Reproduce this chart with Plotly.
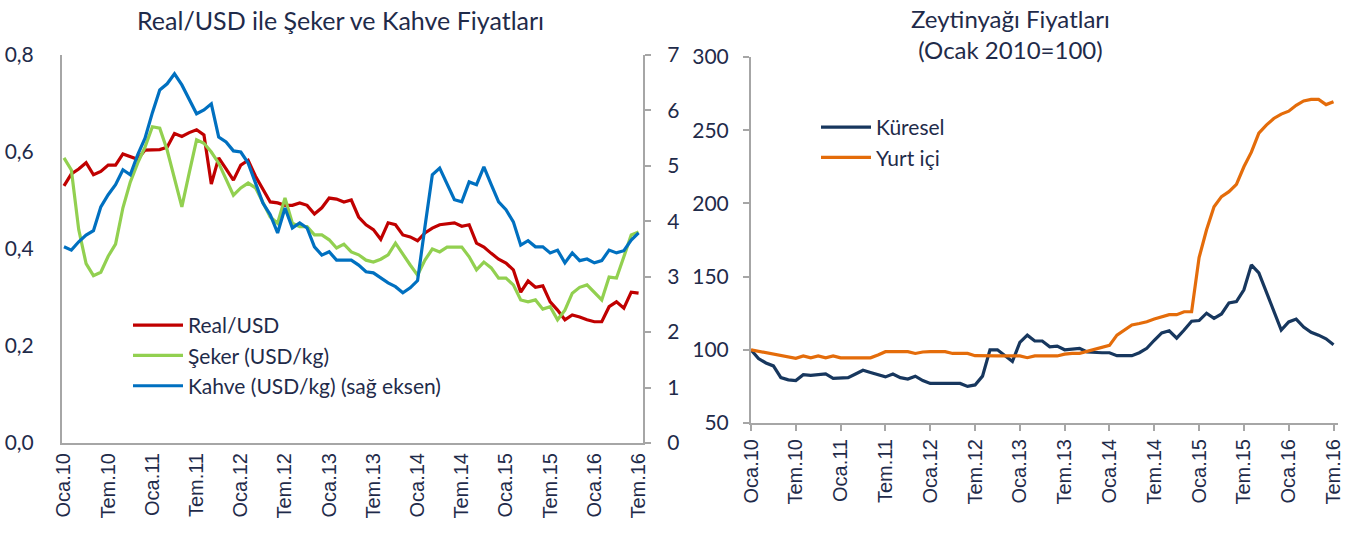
import plotly.graph_objects as go

W, H = 1356, 539

ay_adlari = ["Oca", "Şub", "Mar", "Nis", "May", "Haz", "Tem", "Ağu", "Eyl", "Eki", "Kas", "Ara"]
aylar = [f"{ay_adlari[m]}.{y % 100:02d}" for y in range(2010, 2017) for m in range(12)][:79]

real_usd = [0.53, 0.555, 0.565, 0.578, 0.553, 0.56, 0.573, 0.573, 0.596, 0.59, 0.585, 0.604,
            0.605, 0.605, 0.61, 0.638, 0.632, 0.64, 0.646, 0.635, 0.534, 0.588, 0.565, 0.542,
            0.573, 0.583, 0.55, 0.525, 0.497, 0.495, 0.49, 0.49, 0.495, 0.49, 0.472, 0.485,
            0.505, 0.503, 0.497, 0.501, 0.466, 0.45, 0.44, 0.42, 0.454, 0.45, 0.429, 0.425,
            0.417, 0.433, 0.443, 0.45, 0.452, 0.454, 0.447, 0.45, 0.412, 0.404, 0.391, 0.379,
            0.371, 0.357, 0.311, 0.334, 0.321, 0.324, 0.291, 0.274, 0.254, 0.264, 0.26, 0.254,
            0.25, 0.25, 0.281, 0.291, 0.278, 0.311, 0.309]

seker = [0.588, 0.563, 0.44, 0.37, 0.345, 0.352, 0.385, 0.41, 0.485, 0.538, 0.577, 0.61,
         0.652, 0.649, 0.604, 0.542, 0.487, 0.557, 0.625, 0.618, 0.6, 0.577, 0.542, 0.511,
         0.526, 0.536, 0.526, 0.495, 0.466, 0.453, 0.505, 0.453, 0.446, 0.446, 0.429, 0.429,
         0.419, 0.402, 0.41, 0.394, 0.388, 0.377, 0.373, 0.379, 0.388, 0.412, 0.388, 0.367,
         0.346, 0.377, 0.4, 0.394, 0.404, 0.404, 0.404, 0.384, 0.357, 0.373, 0.361, 0.34,
         0.34, 0.326, 0.295, 0.291, 0.295, 0.276, 0.281, 0.254, 0.274, 0.309, 0.321, 0.326,
         0.311, 0.295, 0.342, 0.34, 0.384, 0.429, 0.435]

kahve = [3.54, 3.48, 3.63, 3.75, 3.83, 4.26, 4.48, 4.66, 4.93, 4.84, 5.2, 5.5,
         5.96, 6.37, 6.48, 6.66, 6.46, 6.19, 5.94, 6.01, 6.12, 5.52, 5.43, 5.27,
         5.25, 5.05, 4.69, 4.33, 4.12, 3.79, 4.24, 3.88, 3.97, 3.88, 3.54, 3.39,
         3.45, 3.3, 3.3, 3.3, 3.21, 3.09, 3.07, 2.98, 2.89, 2.82, 2.71, 2.8,
         2.93, 3.9, 4.84, 4.96, 4.66, 4.39, 4.35, 4.71, 4.66, 4.98, 4.66, 4.35,
         4.21, 3.99, 3.57, 3.65, 3.54, 3.54, 3.43, 3.48, 3.25, 3.43, 3.29, 3.32,
         3.25, 3.29, 3.48, 3.43, 3.47, 3.66, 3.79]

kuresel = [100, 94, 91, 89, 81, 79.5, 79, 83, 82.5, 83, 83.5, 80.5,
           80.5, 81, 83.5, 86, 84.5, 83, 81.5, 83.5, 81, 80, 82, 79,
           77, 77, 77, 77, 77, 75, 76, 82, 100, 100, 96, 92,
           105, 110, 106, 106, 102, 102.5, 100, 100.5, 101, 98.5, 98, 98,
           98, 96, 96, 96, 98, 101, 106.5, 111.5, 113, 108, 113.5, 119.5,
           120, 125, 121.5, 124.5, 132, 133, 141, 158, 152.5, 139.5, 126, 113.5,
           119, 121, 115.5, 112, 110, 107.5, 103.5]

yurt_ici = [100, 99, 98, 97.5, 96.5, 95, 94.2, 95.8, 94.5, 95.8, 94.5, 95.8,
            94.5, 94.5, 94.5, 94.5, 94.5, 96.5, 98.7, 98.7, 98.7, 98.7, 97.5, 98.5,
            98.7, 98.7, 98.7, 97.5, 97.5, 97.5, 96, 95.8, 95.8, 95.8, 95.8, 95.8,
            95.8, 94.6, 95.8, 95.8, 95.8, 95.8, 97, 97.6, 97.6, 99, 100, 101.5,
            103, 110, 113.5, 117, 118, 119.2, 121, 122.5, 124, 124, 126, 126,
            163, 182, 197.7, 204.6, 208, 213, 225, 235, 248, 253.5, 258, 261,
            263, 267, 270, 271, 271, 267.5, 269.5]

TXT = "#1F2B4A"
AX = "#A6A6A6"
YFONT = dict(family="Lato", size=21, color=TXT)
XFONT = dict(family="Liberation Sans", size=20, color=TXT)
LFONT = dict(family="Lato", size=21, color=TXT)
tick_ay = aylar[::6]

fig = go.Figure()
fig.add_trace(go.Scatter(x=aylar, y=real_usd, name="Real/USD", mode="lines",
                         line=dict(color="#C00000", width=3.2), xaxis="x", yaxis="y"))
fig.add_trace(go.Scatter(x=aylar, y=seker, name="Şeker (USD/kg)", mode="lines",
                         line=dict(color="#92D050", width=3.2), xaxis="x", yaxis="y"))
fig.add_trace(go.Scatter(x=aylar, y=kahve, name="Kahve (USD/kg) (sağ eksen)", mode="lines",
                         line=dict(color="#0070C0", width=3.2), xaxis="x", yaxis="y2"))
fig.add_trace(go.Scatter(x=aylar, y=kuresel, name="Küresel", mode="lines",
                         line=dict(color="#17375E", width=3.2), xaxis="x2", yaxis="y3",
                         legend="legend2"))
fig.add_trace(go.Scatter(x=aylar, y=yurt_ici, name="Yurt içi", mode="lines",
                         line=dict(color="#E46C0A", width=3.2), xaxis="x2", yaxis="y3",
                         legend="legend2"))

fig.update_layout(
    width=W, height=H,
    margin=dict(l=0, r=0, t=0, b=0, autoexpand=False),
    plot_bgcolor="white", paper_bgcolor="white",
    separators=",.",
    xaxis=dict(domain=[62 / W, 643 / W], range=[-0.27, 78.6], type="category",
               tickmode="array", tickvals=tick_ay, ticktext=tick_ay, tickangle=-90,
               tickfont=XFONT, showline=True, linecolor=AX, linewidth=2,
               showgrid=False, ticks="", anchor="y", automargin=False),
    yaxis=dict(domain=[1 - 443 / H, 1 - 55 / H], range=[0, 0.8], dtick=0.2, tickformat=".1f",
               tickfont=YFONT, showline=True, linecolor=AX, linewidth=2, showgrid=False,
               zeroline=False, ticks="", ticklabelstandoff=22, anchor="x", automargin=False),
    yaxis2=dict(range=[0, 7], dtick=1, overlaying="y", side="right", anchor="x",
                tickfont=YFONT, showline=True, linecolor=AX, linewidth=2, showgrid=False,
                zeroline=False, ticks="outside", ticklen=6, tickcolor=AX, tickwidth=2,
                ticklabelstandoff=12, automargin=False),
    xaxis2=dict(domain=[751 / W, 1338 / W], range=[0, 78.6], type="category",
                tickmode="array", tickvals=tick_ay, ticktext=tick_ay, tickangle=-90,
                tickfont=XFONT, showline=True, linecolor=AX, linewidth=2,
                showgrid=False, ticks="outside", ticklen=6, tickcolor=AX, tickwidth=2,
                anchor="y3", automargin=False),
    yaxis3=dict(domain=[1 - 423 / H, 1 - 57 / H], range=[50, 300], dtick=50,
                tickfont=YFONT, showline=True, linecolor=AX, linewidth=2, showgrid=False,
                zeroline=False, ticks="outside", ticklen=6, tickcolor=AX, tickwidth=2,
                ticklabelstandoff=10, anchor="x2", automargin=False),
    legend=dict(x=128 / W, y=1 - 305 / H, xanchor="left", yanchor="top",
                font=LFONT, bgcolor="rgba(0,0,0,0)", tracegroupgap=0, itemwidth=50),
    legend2=dict(x=816 / W, y=1 - 107 / H, xanchor="left", yanchor="top",
                 font=LFONT, bgcolor="rgba(0,0,0,0)", tracegroupgap=0, itemwidth=50),
    annotations=[
        dict(text="Real/USD ile Şeker ve Kahve Fiyatları", x=340 / W, y=1 - 20 / H,
             xref="paper", yref="paper", xanchor="center", yanchor="middle",
             showarrow=False, font=dict(family="Lato", size=25, color=TXT)),
        dict(text="Zeytinyağı Fiyatları<br>(Ocak 2010=100)", x=1010 / W, y=1 - 34 / H,
             xref="paper", yref="paper", xanchor="center", yanchor="middle",
             showarrow=False, font=dict(family="Lato", size=24, color=TXT)),
    ],
)

fig.write_html("out.html", config={"displayModeBar": False},
               post_script="document.body.style.margin='0';")
